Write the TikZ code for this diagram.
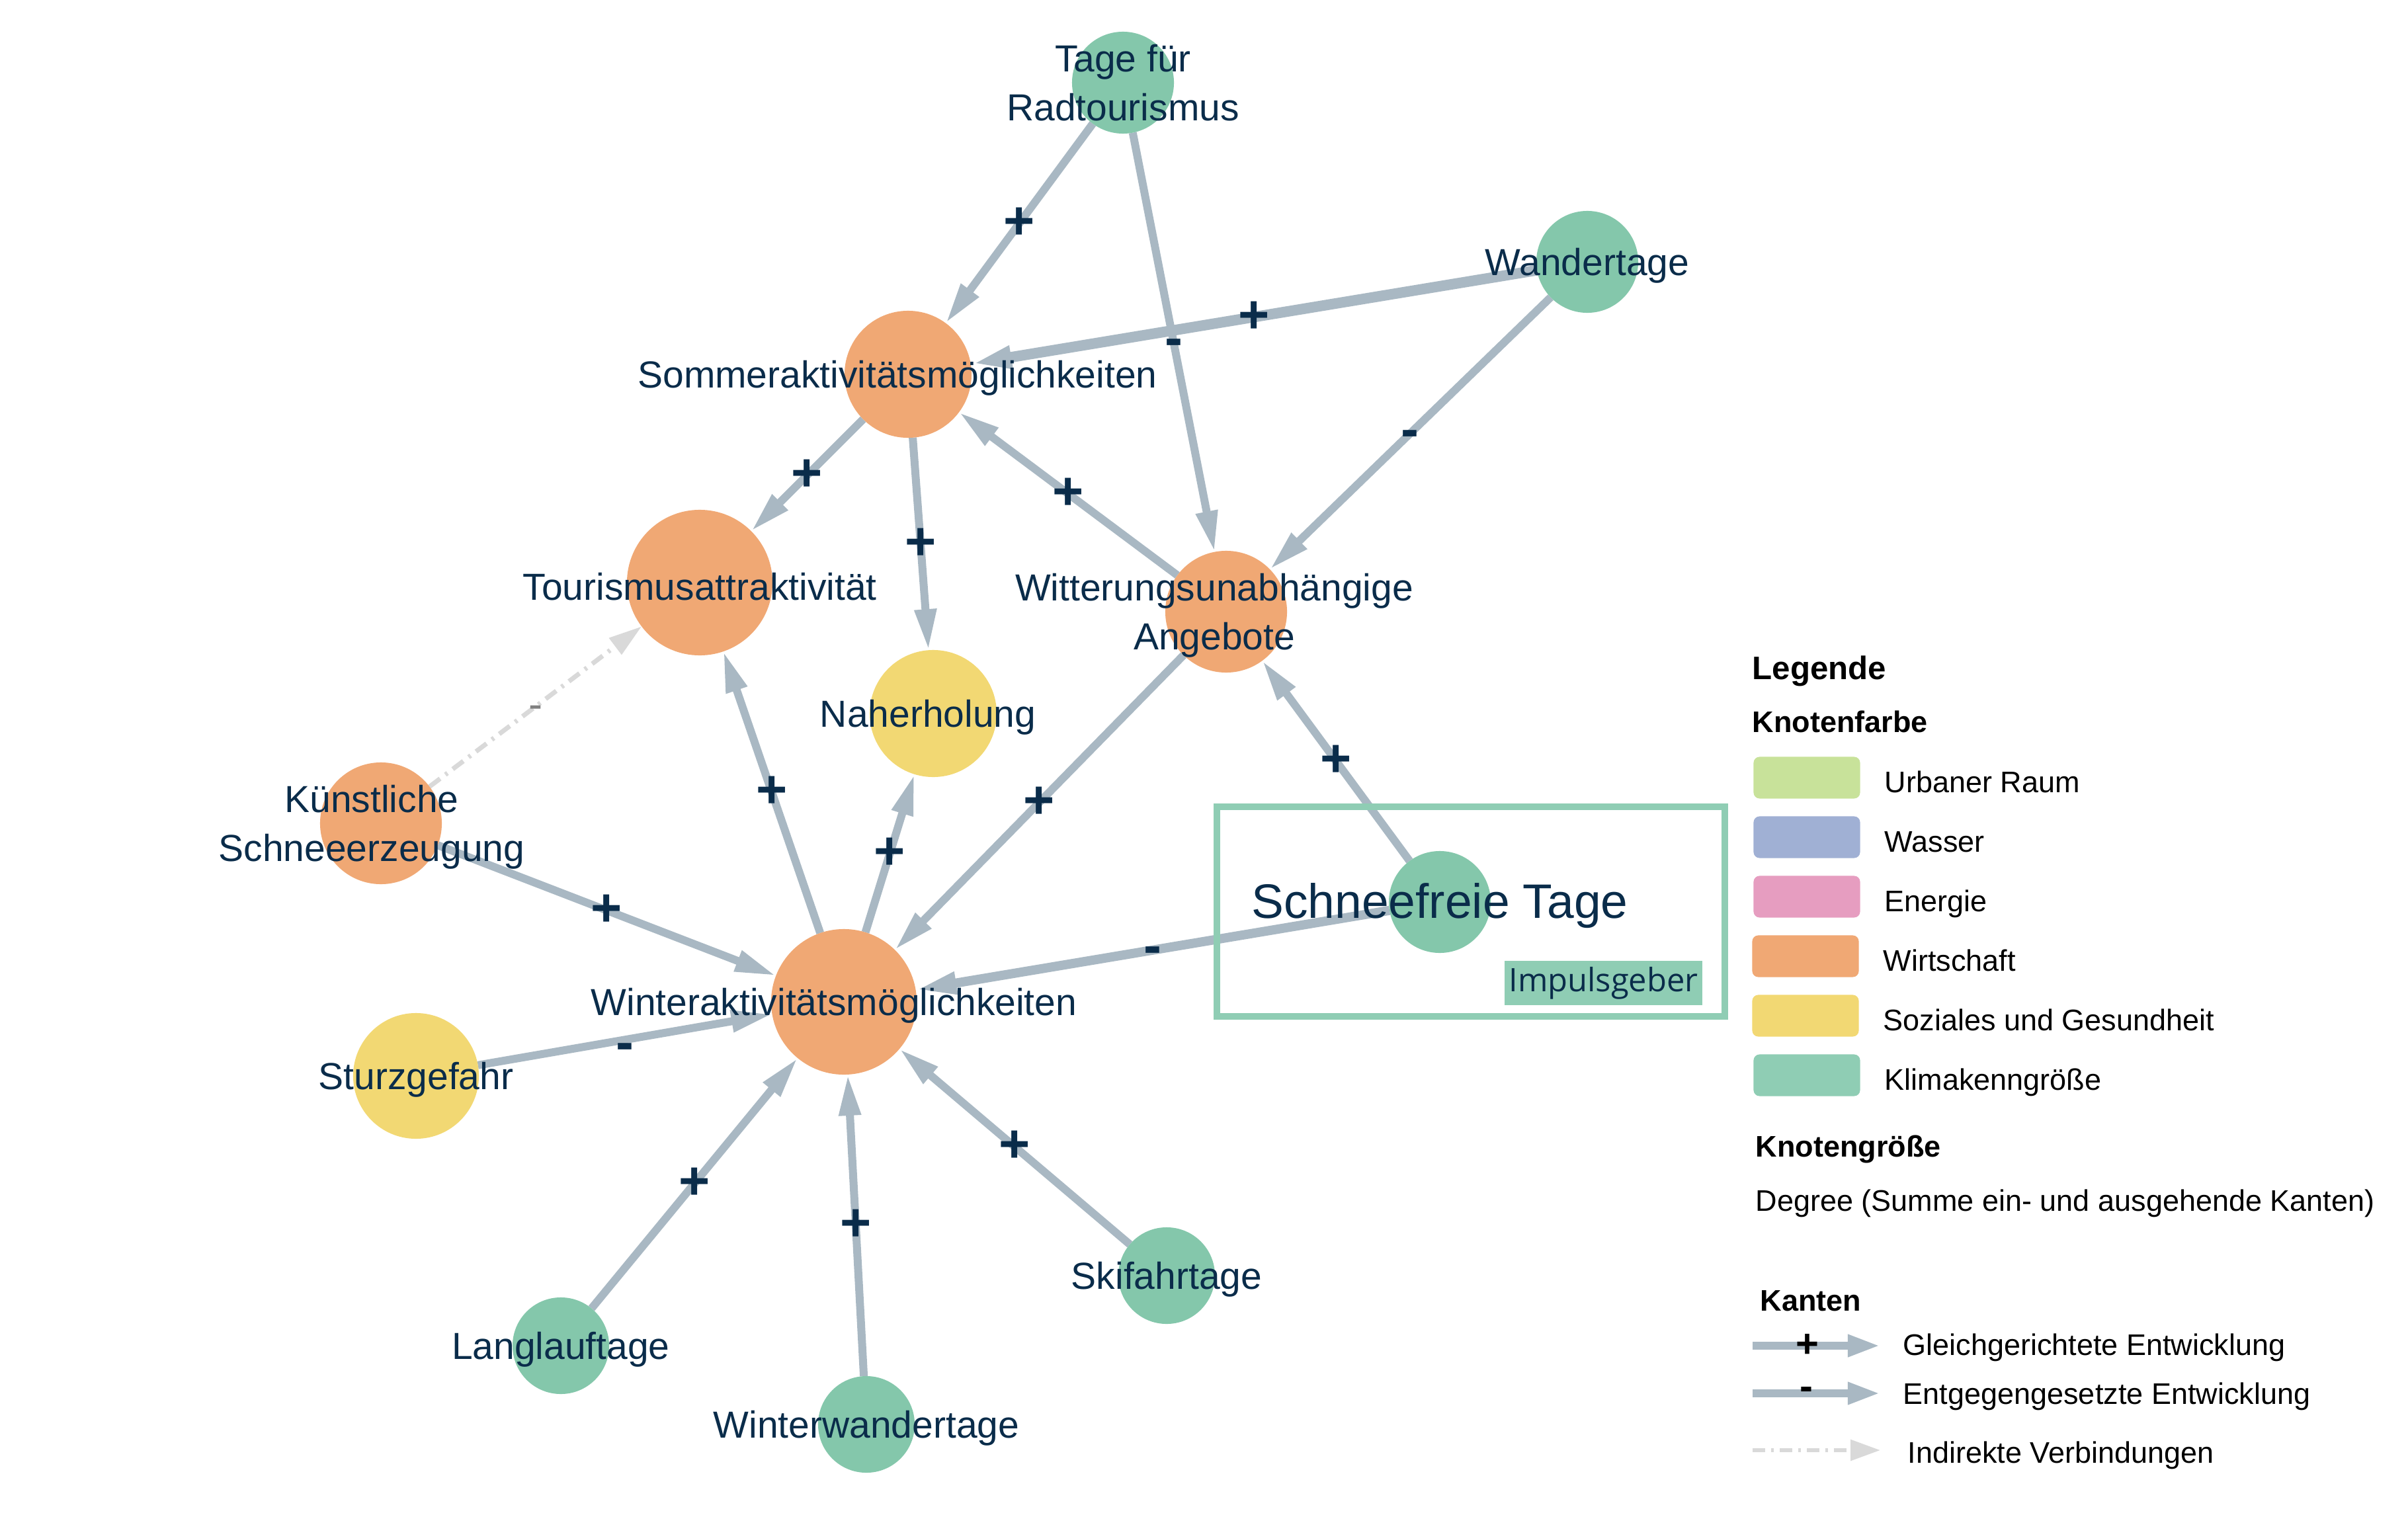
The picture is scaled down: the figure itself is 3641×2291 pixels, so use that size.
\documentclass[tikz,border=0pt]{standalone}
\usepackage{fontspec}
\setmainfont{Liberation Sans}
\newfontfamily\impulsfont{Open Sans}
\usetikzlibrary{arrows.meta}

\definecolor{textblau}{HTML}{0A2C4A}
\definecolor{wirtschaftfarbe}{HTML}{F0A874}
\definecolor{sozialesfarbe}{HTML}{F2D873}
\definecolor{klimafarbe}{HTML}{84C7AB}
\definecolor{klimahell}{HTML}{8FCDB4}
\definecolor{urbanfarbe}{HTML}{C8E29A}
\definecolor{wasserfarbe}{HTML}{A0B0D4}
\definecolor{energiefarbe}{HTML}{E69DC0}
\definecolor{kantenfarbe}{HTML}{A9B8C3}
\definecolor{indirektfarbe}{HTML}{D9D9D9}

\newcommand{\knotenfont}{\fontsize{16.2}{21}\selectfont}
\newcommand{\sfkopf}{\fontsize{20.8}{25}\selectfont}
\newcommand{\vzfont}{\fontsize{23}{23}\selectfont\bfseries}
\newcommand{\legfont}{\fontsize{12.8}{15}\selectfont}
\newcommand{\legkopf}{\fontsize{12.8}{15}\selectfont\bfseries}

\tikzstyle{knoten} = [circle, inner sep=0pt, outer sep=0pt]
\tikzstyle{wirtschaft} = [knoten, fill=wirtschaftfarbe]
\tikzstyle{soziales} = [knoten, fill=sozialesfarbe]
\tikzstyle{klima} = [knoten, fill=klimafarbe]
\tikzstyle{knotentext} = [text=textblau, font=\knotenfont, align=center, inner sep=0pt, yshift=-0.06cm]
\tikzstyle{kante} = [line width=0.12cm, draw=kantenfarbe, -{Triangle[length=0.62cm, width=0.31cm]}]
\tikzstyle{kantedick} = [kante, line width=0.16cm]
\tikzstyle{kantemittel} = [kante, line width=0.14cm]
\tikzstyle{indirekt} = [line width=0.07cm, draw=indirektfarbe, dash pattern=on 0.2cm off 0.1cm on 0.04cm off 0.1cm, -{Triangle[length=0.5cm, width=0.3cm]}]
\tikzstyle{vz} = [font=\vzfont, text=textblau, inner sep=0pt]
\tikzstyle{vzminus} = [vz, yshift=-0.08cm]
\tikzstyle{vzgrau} = [font=\fontsize{18}{18}\selectfont, text=gray, inner sep=0pt, yshift=-0.08cm]
\tikzstyle{impulsrahmen} = [rectangle, draw=klimahell, line width=0.1cm, inner sep=0pt]
\tikzstyle{impulsmarke} = [rectangle, fill=klimahell, text=textblau, font=\impulsfont\fontsize{13.9}{16}\selectfont, inner sep=0pt]
\tikzstyle{legtext} = [anchor=base west, font=\legfont, inner sep=0pt]
\tikzstyle{legkopftext} = [anchor=base west, font=\legkopf, inner sep=0pt]
\tikzstyle{farbfeld} = [rectangle, rounded corners=0.09cm, minimum width=1.61cm, minimum height=0.63cm, inner sep=0pt]
\tikzstyle{legkante} = [line width=0.12cm, draw=kantenfarbe, -{Triangle[length=0.49cm, width=0.31cm]}]
\tikzstyle{legindirekt} = [line width=0.06cm, draw=indirektfarbe, dash pattern=on 0.19cm off 0.09cm on 0.04cm off 0.09cm, -{Triangle[length=0.45cm, width=0.31cm]}]
\tikzstyle{legvz} = [font=\fontsize{17}{17}\selectfont\bfseries, text=black, inner sep=0pt]

\pgfdeclarelayer{kanten}
\pgfsetlayers{kanten,main}

\begin{document}
\begin{tikzpicture}[x=0.01cm, y=-0.01cm]

\useasboundingbox (0,0) rectangle (3641,2291);

% Knoten
\node (tr) [klima, minimum size=1.54cm, label={[knotentext, yshift=0.06cm]center:Tage für\\Radtourismus}] at (1698,125) {};

\node (wt) [klima, minimum size=1.54cm, label={[knotentext]center:Wandertage}] at (2400,396) {};

\node (so) [wirtschaft, minimum size=1.92cm, label={[knotentext, xshift=-0.16cm]center:Sommeraktivitätsmöglichkeiten}] at (1373,566) {};

\node (to) [wirtschaft, minimum size=2.2cm, label={[knotentext]center:Tourismusattraktivität}] at (1058,881) {};

\node (na) [soziales, minimum size=1.92cm, label={[knotentext, xshift=-0.08cm]center:Naherholung}] at (1411,1079) {};

\node (wi) [wirtschaft, minimum size=1.84cm, label={[knotentext, xshift=-0.18cm]center:Witterungsunabhängige\\Angebote}] at (1854,925) {};

\node (ks) [wirtschaft, minimum size=1.84cm, label={[knotentext, xshift=-0.14cm]center:Künstliche\\Schneeerzeugung}] at (576,1245) {};

\node (sf) [klima, minimum size=1.54cm, label={[knotentext, font=\sfkopf]center:Schneefreie Tage}] at (2177,1364) {};

\node (wa) [wirtschaft, minimum size=2.2cm, label={[knotentext, xshift=-0.15cm]center:Winteraktivitätsmöglichkeiten}] at (1276,1515) {};

\node (sg) [soziales, minimum size=1.9cm, label={[knotentext]center:Sturzgefahr}] at (629,1627) {};

\node (ll) [klima, minimum size=1.46cm, label={[knotentext]center:Langlauftage}] at (848,2035) {};

\node (ww) [klima, minimum size=1.46cm, label={[knotentext]center:Winterwandertage}] at (1310,2154) {};

\node (sk) [klima, minimum size=1.46cm, label={[knotentext]center:Skifahrtage}] at (1764,1929) {};

% Impulsgeber
\node (rahmen) [impulsrahmen, minimum width=7.68cm, minimum height=3.17cm] at (2224,1378.5) {};

\node (impuls) [impulsmarke, minimum width=2.99cm, minimum height=0.67cm] at (2424.5,1486.5) {Impulsgeber};

% Kanten
\begin{pgfonlayer}{kanten}
\draw [kante] (tr) -- node [vz] {+} (so);
\draw [kante] (tr) -- node [vzminus] {-} (wi);
\draw [kantedick] (wt) -- node [vz] {+} (so);
\draw [kante] (wt) -- node [vzminus] {-} (wi);
\draw [kante] (so) -- node [vz] {+} (to);
\draw [kante] (so) -- node [vz] {+} (na);
\draw [kante] (wi) -- node [vz] {+} (so);
\draw [kante] (wi) -- node [vz] {+} (wa);
\draw [kante] (sf) -- node [vz] {+} (wi);
\draw [kantemittel] (sf) -- node [vzminus] {-} (wa);
\draw [indirekt] (ks) -- node [vzgrau] {-} (to);
\draw [kante] (ks) -- node [vz] {+} (wa);
\draw [kante] (wa) -- node [vz] {+} (to);
\draw [kante] (wa) -- node [vz] {+} (na);
\draw [kante] (sg) -- node [vzminus, yshift=-0.1cm] {-} (wa);
\draw [kante] (ll) -- node [vz] {+} (wa);
\draw [kante] (ww) -- node [vz] {+} (wa);
\draw [kante] (sk) -- node [vz] {+} (wa);
\end{pgfonlayer}

% Legende
\node (legende) [legkopftext, font=\fontsize{14}{16}\selectfont\bfseries] at (2649,1027) {Legende};

\node (knotenfarbe) [legkopftext] at (2649,1107) {Knotenfarbe};

\node (f1) [farbfeld, fill=urbanfarbe] at (2732,1176) {};
\node (f2) [farbfeld, fill=wasserfarbe] at (2732,1266) {};
\node (f3) [farbfeld, fill=energiefarbe] at (2732,1356) {};
\node (f4) [farbfeld, fill=wirtschaftfarbe] at (2730,1446) {};
\node (f5) [farbfeld, fill=sozialesfarbe] at (2730,1536) {};
\node (f6) [farbfeld, fill=klimahell] at (2732,1626) {};

\node (t1) [legtext] at (2849,1198) {Urbaner Raum};
\node (t2) [legtext] at (2849,1288) {Wasser};
\node (t3) [legtext] at (2849,1378) {Energie};
\node (t4) [legtext] at (2847,1468) {Wirtschaft};
\node (t5) [legtext] at (2847,1558) {Soziales und Gesundheit};
\node (t6) [legtext] at (2849,1648) {Klimakenngröße};

\node (knotengroesse) [legkopftext] at (2654,1749) {Knotengröße};

\node (degree) [legtext] at (2654,1831) {Degree (Summe ein- und ausgehende Kanten)};

\node (kantenkopf) [legkopftext] at (2661,1982) {Kanten};

\coordinate (lk1a) at (2650,2035);
\coordinate (lk1b) at (2843,2035);
\coordinate (lk2a) at (2650,2107);
\coordinate (lk2b) at (2843,2107);
\coordinate (lk3a) at (2650,2193);
\coordinate (lk3b) at (2843,2193);

\draw [legkante] (lk1a) -- node [pos=0.43, legvz] {+} (lk1b);
\draw [legkante] (lk2a) -- node [pos=0.42, legvz] {-} (lk2b);
\draw [legindirekt] (lk3a) -- (lk3b);

\node (g1) [legtext] at (2877,2049) {Gleichgerichtete Entwicklung};
\node (g2) [legtext] at (2877,2123) {Entgegengesetzte Entwicklung};
\node (g3) [legtext] at (2884,2212) {Indirekte Verbindungen};

\end{tikzpicture}
\end{document}
